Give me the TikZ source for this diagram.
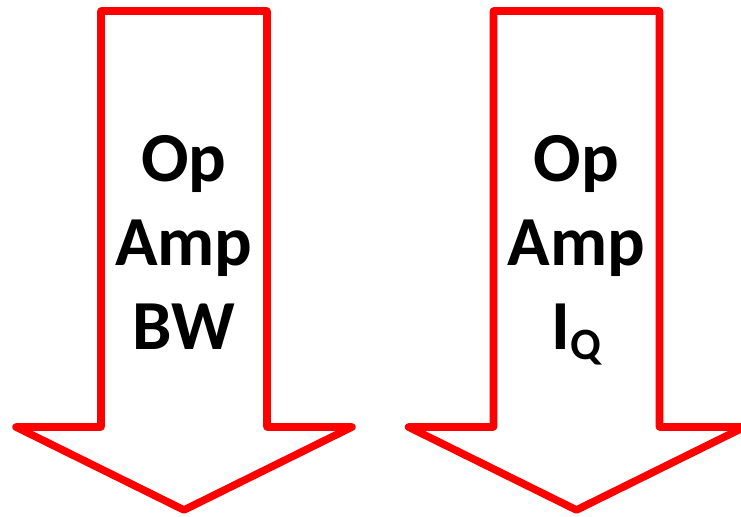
\documentclass[tikz,border=0pt]{standalone}
\usepackage{fontspec}
\setmainfont{Carlito}

\tikzset{
  redarrow/.style={draw=red, fill=white, line width=4.3pt, line join=round},
  label/.style={font=\fontsize{40}{47}\selectfont\bfseries, anchor=base, inner sep=0pt},
  pics/downarrow/.style={code={
    \draw[redarrow] (-83,11) -- (83,11) -- (83,427) -- (168,427)
      -- (0,510) -- (-168,427) -- (-83,427) -- cycle;
  }}
}

\begin{document}
\begin{tikzpicture}[x=0.02cm, y=-0.02cm]
  \useasboundingbox (0,0) rectangle (741,517);

  % left arrow
  \pic at (184,0) {downarrow};
  \node[label] (bw-op)  at (184,182) {Op};
  \node[label] (bw-amp) at (184,265.5) {Amp};
  \node[label] (bw-bw)  at (184,349) {BW};

  % right arrow
  \pic at (576.5,0) {downarrow};
  \node[label] (iq-op)  at (576.5,182) {Op};
  \node[label] (iq-amp) at (576.5,265.5) {Amp};
  \node[label] (iq-iq)  at (576.5,349)
    {I{\fontsize{25.5}{25.5}\selectfont\raisebox{-5.7pt}{Q}}};
\end{tikzpicture}
\end{document}
